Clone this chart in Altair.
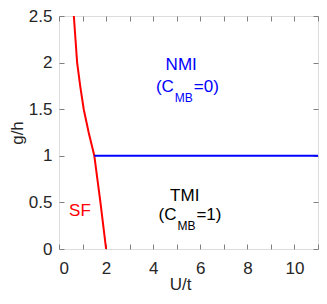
import altair as alt
import pandas as pd

# Phase boundary data
sf_u = [2.0, 1.88, 1.76, 1.63, 1.50, 1.26, 1.05, 0.90, 0.77, 0.70, 0.63]
sf_g = [0.0, 0.25, 0.5, 0.75, 1.0, 1.25, 1.5, 1.75, 2.0, 2.25, 2.5]
nmi_u = [1.50, 11.0]
nmi_g = [1.0, 1.0]

x_ticks = list(range(0, 12))
y_ticks = [0, 0.5, 1, 1.5, 2, 2.5]

# label anchors (data coordinates)
main_labels = ["NMI", "TMI", "SF"]
main_u = [5.19, 5.34, 0.89]
main_g = [1.92, 0.515, 0.35]
main_colors = ["#0000ff", "#000000", "#ff0000"]

sub_anchor_u = [4.92, 5.03]
sub_anchor_g = [1.68, 0.314]
sub_pre = ["(C", "(C"]
sub_mid = ["MB", "MB"]
sub_post = ["=0)", "=1)"]
sub_colors = ["#0000ff", "#000000"]

FONT = "Liberation Sans"
FS = 17
GRAY = "#808080"

sf = pd.DataFrame({"u": sf_u, "g": sf_g})
nmi = pd.DataFrame({"u": nmi_u, "g": nmi_g})
lab = pd.DataFrame({"t": main_labels, "u": main_u, "g": main_g, "c": main_colors})
sub = pd.DataFrame({"pre": sub_pre, "mid": sub_mid, "post": sub_post,
                    "u": sub_anchor_u, "g": sub_anchor_g, "c": sub_colors})

xs = alt.Scale(domain=[0, 11], nice=False)
ys = alt.Scale(domain=[0, 2.5], nice=False)

common_axis = dict(tickSize=5, offset=-5, domain=False, grid=False,
                   tickColor=GRAY, tickWidth=1, labelFont=FONT, labelFontSize=FS,
                   labelColor="#262626", titleFont=FONT, titleFontSize=FS,
                   titleFontWeight="normal", titleColor="#262626")

x_bottom = alt.Axis(orient="bottom", values=x_ticks,
                    labelExpr="datum.value % 2 == 0 ? datum.label : ''",
                    labelPadding=11, title="U/t", titlePadding=0, titleX=121,
                    **common_axis)
y_left = alt.Axis(orient="left", values=y_ticks, format="~g",
                  labelPadding=7, title="g/h", titlePadding=2, **common_axis)
x_top = alt.Axis(orient="top", values=x_ticks, labels=False, title=None,
                 **common_axis)
y_right = alt.Axis(orient="right", values=y_ticks, labels=False, title=None,
                   **common_axis)

red = alt.Chart(sf).mark_line(color="#ff0000", strokeWidth=2).encode(
    x=alt.X("u:Q", scale=xs, axis=x_bottom),
    y=alt.Y("g:Q", scale=ys, axis=y_left),
    order=alt.Order("g:Q"),
)

blue = alt.Chart(nmi).mark_line(color="#0000ff", strokeWidth=2).encode(
    x=alt.X("u:Q", scale=xs, axis=x_top),
    y=alt.Y("g:Q", scale=ys, axis=y_right),
)

labels = alt.Chart(lab).mark_text(font=FONT, fontSize=FS, align="center",
                                  baseline="alphabetic").encode(
    x=alt.X("u:Q", scale=xs, axis=None),
    y=alt.Y("g:Q", scale=ys, axis=None),
    text="t:N",
    color=alt.Color("c:N", scale=None),
)

base_sub = alt.Chart(sub).encode(
    x=alt.X("u:Q", scale=xs, axis=None),
    y=alt.Y("g:Q", scale=ys, axis=None),
    color=alt.Color("c:N", scale=None),
)
pre = base_sub.mark_text(font=FONT, fontSize=FS, align="right",
                         baseline="alphabetic", dx=-1).encode(text="pre:N")
mid = base_sub.mark_text(font=FONT, fontSize=12, align="left",
                         baseline="alphabetic", dy=10).encode(text="mid:N")
post = base_sub.mark_text(font=FONT, fontSize=FS, align="left",
                          baseline="alphabetic", dx=19).encode(text="post:N")

chart = alt.layer(red, blue, labels, pre, mid, post).resolve_axis(
    x="independent", y="independent"
).properties(
    width=259, height=233,
    autosize=alt.AutoSizeParams(type="none"),
    padding={"left": 51, "top": 8, "right": 1, "bottom": 47},
).configure_view(stroke=GRAY, strokeWidth=1).configure(background="white")

chart.save("out.html", embed_options={"renderer": "svg", "actions": False})
